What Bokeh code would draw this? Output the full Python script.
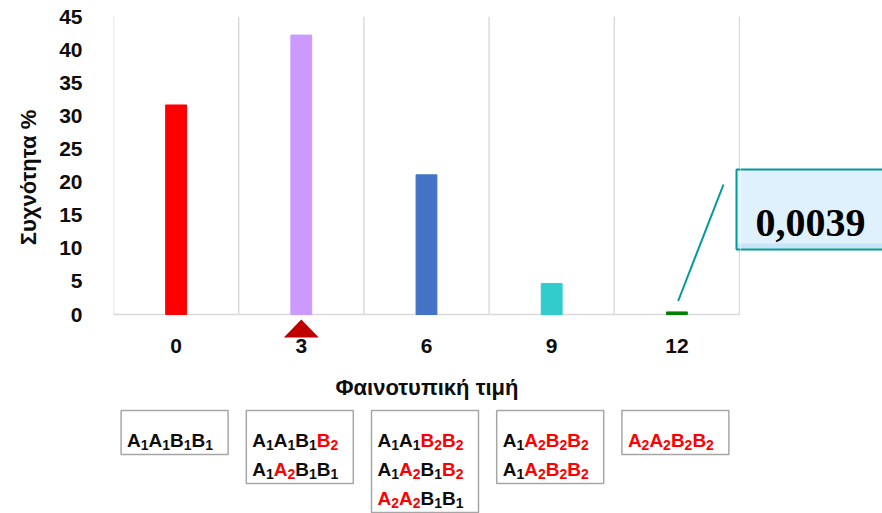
from bokeh.plotting import figure
from bokeh.layouts import column, row
from bokeh.models import (Range1d, FixedTicker, ColumnDataSource, PolyAnnotation)
from bokeh.core.properties import value
from bokeh.embed import file_html
from bokeh.resources import INLINE

# Phenotypic value classes and their frequencies (%)
phenotype = [0, 3, 6, 9, 12]
frequency = [31.64, 42.19, 21.09, 4.69, 0.39]
bar_colors = ["#ff0000", "#cc99ff", "#4472c4", "#33cccc", "#008000"]
y_ticks = [0, 5, 10, 15, 20, 25, 30, 35, 40, 45]

# Genotypes that give each phenotypic value
genotypes = [
    ["A1A1B1B1"],
    ["A1A1B1B2", "A1A2B1B1"],
    ["A1A1B2B2", "A1A2B1B2", "A2A2B1B1"],
    ["A1A2B2B2", "A1A2B2B2"],
    ["A2A2B2B2"],
]

# ---- page geometry (pixels) ----
W, H = 882, 513
TOP_H = 405                      # chart panel height; genotype strip below
LEFT_W = 740                     # chart + strip width; callout column to the right
LEFT, RIGHT, TOP, BASE = 113, 739, 16, 314   # class area and y = 0 baseline
FRAME_BOTTOM = 338               # frame runs a little below y = 0 for the marker
CALL_L, CALL_T, CALL_B = 736, 169, 249       # callout box edges
X0, X1 = -1.5, 13.5
Y1 = 45.0
SX = (RIGHT - LEFT) / (X1 - X0)
SY = (BASE - TOP) / Y1


def dx(px):
    return X0 + (px - LEFT) / SX


def dy(py):
    return (BASE - py) / SY


INK = "#0d0d0d"
RED = "#ff0000"
TEAL = "#009999"
CALL_FILL = "#dff1fd"
CALL_BAND = "#c8e5f8"
SANS = "Liberation Sans"

xr = Range1d(X0, dx(LEFT_W))
p = figure(width=LEFT_W, height=TOP_H,
           x_range=xr, y_range=Range1d(dy(FRAME_BOTTOM), Y1),
           output_backend="svg", toolbar_location=None,
           min_border_left=LEFT, min_border_right=0,
           min_border_top=TOP, min_border_bottom=TOP_H - FRAME_BOTTOM)
p.outline_line_color = None
p.background_fill_color = "white"
p.border_fill_color = "white"
p.grid.grid_line_color = None

# class separators and baseline
sep = [X0 + 3 * k for k in range(6)]
p.segment(x0=sep, y0=[0] * 6, x1=sep, y1=[Y1] * 6, line_color="#d9d9d9", line_width=1.4)
p.segment(x0=[X0], y0=[0], x1=[X1], y1=[0], line_color="#d9d9d9", line_width=1.6)

# bars
src = ColumnDataSource(dict(x=phenotype, top=frequency, color=bar_colors))
p.vbar(x="x", top="top", bottom=0, width=0.5, color="color", source=src)

# x axis (line drawn above as baseline)
p.xaxis.ticker = FixedTicker(ticks=phenotype)
p.xaxis.axis_line_color = None
p.xaxis.major_tick_line_color = None
p.xaxis.minor_tick_line_color = None
p.xaxis.major_label_text_font = SANS
p.xaxis.major_label_text_font_style = "bold"
p.xaxis.major_label_text_font_size = "21px"
p.xaxis.major_label_text_color = INK
p.xaxis.major_label_standoff = -6
p.xaxis.axis_label = "Φαινοτυπική τιμή"
p.xaxis.axis_label_text_font = SANS
p.xaxis.axis_label_text_font_style = "bold"
p.xaxis.axis_label_text_font_size = "22px"
p.xaxis.axis_label_text_color = INK
p.xaxis.axis_label_standoff = 19

# y axis
p.yaxis.ticker = FixedTicker(ticks=y_ticks)
p.yaxis.axis_line_color = None
p.yaxis.major_tick_line_color = None
p.yaxis.minor_tick_line_color = None
p.yaxis.major_label_text_font = SANS
p.yaxis.major_label_text_font_style = "bold"
p.yaxis.major_label_text_font_size = "21px"
p.yaxis.major_label_text_color = INK
p.yaxis.major_label_standoff = 25
p.yaxis.axis_label = "Συχνότητα %"
p.yaxis.axis_label_text_font = SANS
p.yaxis.axis_label_text_font_style = "bold"
p.yaxis.axis_label_text_font_size = "22px"
p.yaxis.axis_label_text_color = INK
p.yaxis.axis_label_standoff = 15

# marker under the most frequent class
tri_x = phenotype[1]
hw = 17.5 / SX
p.add_layout(PolyAnnotation(xs=[tri_x - hw, tri_x + hw, tri_x],
                            ys=[dy(337), dy(337), dy(319)],
                            fill_color="#c00000", fill_alpha=1.0, line_color=None))

# leader from the smallest class towards its callout
p.segment(x0=[phenotype[4] + 0.03], y0=[dy(300.5)], x1=[dx(723)], y1=[dy(184)],
          line_color=TEAL, line_width=2)

# left end of the callout box (the rest continues in the next column)
p.quad(left=[dx(CALL_L)], right=[dx(LEFT_W + 20)], top=[dy(CALL_T)], bottom=[dy(CALL_B)],
       fill_color=CALL_FILL, line_color=None)
p.quad(left=[dx(CALL_L + 1.5)], right=[dx(LEFT_W + 20)], top=[dy(CALL_B - 6)],
       bottom=[dy(CALL_B - 1.5)], fill_color=CALL_BAND, line_color=None)
p.quad(left=[dx(CALL_L)], right=[dx(LEFT_W + 20)], top=[dy(CALL_T)], bottom=[dy(CALL_B)],
       fill_color=None, line_color=TEAL, line_width=2)

# ---- callout column: page columns / rows ----
c = figure(width=W - LEFT_W, height=H,
           x_range=Range1d(LEFT_W, W), y_range=Range1d(H, 0),
           output_backend="svg", toolbar_location=None,
           min_border_left=0, min_border_right=0, min_border_top=0, min_border_bottom=0)
c.axis.visible = False
c.grid.grid_line_color = None
c.outline_line_color = None
c.background_fill_color = "white"
c.border_fill_color = "white"

callout_text = f"{frequency[4] / 100:.4f}".replace(".", ",")
c.quad(left=[LEFT_W - 20], right=[W + 20], top=[CALL_T], bottom=[CALL_B],
       fill_color=CALL_FILL, line_color=None)
c.quad(left=[LEFT_W - 20], right=[W + 20], top=[CALL_B - 6], bottom=[CALL_B - 1.5],
       fill_color=CALL_BAND, line_color=None)
c.quad(left=[LEFT_W - 20], right=[W + 20], top=[CALL_T], bottom=[CALL_B],
       fill_color=None, line_color=TEAL, line_width=2)
c.text(x=[755], y=[222], text=[callout_text],
       text_font=value("Liberation Serif"), text_font_style="bold",
       text_font_size="40px", text_color="#000000",
       text_baseline="alphabetic", text_align="left")

# ---- genotype strip: shares the x scale, y in page rows ----
g = figure(width=LEFT_W, height=H - TOP_H,
           x_range=xr, y_range=Range1d(H, TOP_H),
           output_backend="svg", toolbar_location=None,
           min_border_left=LEFT, min_border_right=0, min_border_top=0, min_border_bottom=0)
g.axis.visible = False
g.grid.grid_line_color = None
g.outline_line_color = None
g.background_fill_color = "white"
g.border_fill_color = "white"

MAIN, SUB = 19, 14
ADV_L, ADV_S = 0.722 * MAIN, 0.556 * SUB
letters = dict(x=[], y=[], text=[], color=[])
subs = dict(x=[], y=[], text=[], color=[])
boxes = dict(left=[], right=[], top=[], bottom=[])
for cls, lines in zip(phenotype, genotypes):
    cx = LEFT + (cls - X0) * SX
    bl, br = cx - 55, cx + 52
    bt = 410
    bb = bt + 15 + 29 * len(lines)
    boxes["left"].append(dx(bl))
    boxes["right"].append(dx(br))
    boxes["top"].append(bt)
    boxes["bottom"].append(bb)
    for j, gt in enumerate(lines):
        base = bt + 30 + 29 * j
        x = bl + 6
        for k in range(0, len(gt), 2):
            letter, digit = gt[k], gt[k + 1]
            col = RED if digit == "2" else INK
            letters["x"].append(dx(x))
            letters["y"].append(base)
            letters["text"].append(letter)
            letters["color"].append(col)
            x += ADV_L
            subs["x"].append(dx(x))
            subs["y"].append(base + 4.4)
            subs["text"].append(digit)
            subs["color"].append(col)
            x += ADV_S

g.quad(left="left", right="right", top="top", bottom="bottom",
       source=ColumnDataSource(boxes), fill_color=None,
       line_color="#a6a6a6", line_width=1.5)
g.text(x="x", y="y", text="text", text_color="color",
       source=ColumnDataSource(letters), text_font=value(SANS),
       text_font_style="bold", text_font_size=f"{MAIN}px",
       text_baseline="alphabetic", text_align="left")
g.text(x="x", y="y", text="text", text_color="color",
       source=ColumnDataSource(subs), text_font=value(SANS),
       text_font_style="bold", text_font_size=f"{SUB}px",
       text_baseline="alphabetic", text_align="left")

layout = row(column(p, g, spacing=0), c, spacing=0)
open("out.html", "w").write(file_html(layout, INLINE))
